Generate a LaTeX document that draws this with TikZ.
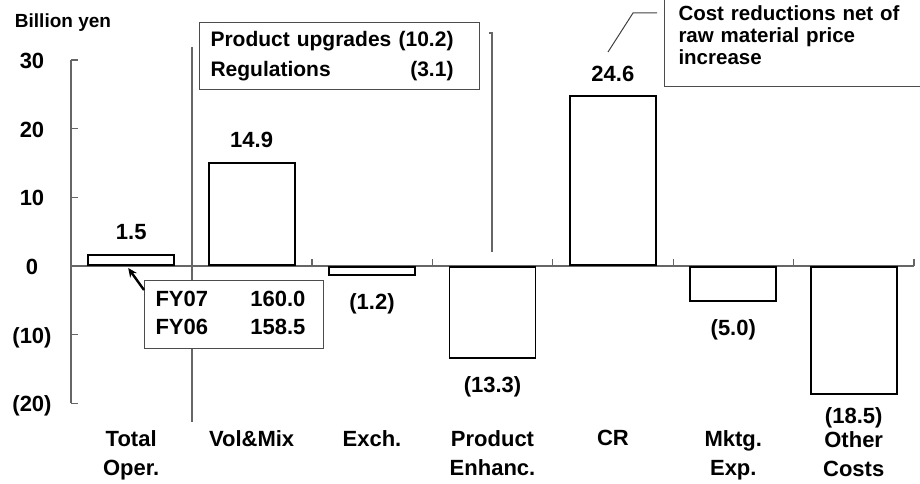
\documentclass[tikz,border=0pt]{standalone}
\usepackage{fontspec}
\setmainfont{Liberation Sans}
\usetikzlibrary{arrows.meta, positioning}

\begin{document}
\begin{tikzpicture}[
	x=1bp, y=-1bp,
	font=\bfseries\fontsize{22bp}{29bp}\selectfont,
	axis/.style={draw=black!60, line width=1.3bp},
	bar/.style={draw, line width=1.8bp, fill=white, inner sep=0pt,
		minimum width=86bp, minimum height=#1*6.865bp},
	val/.style={inner sep=0pt},
	cat/.style={inner sep=0pt, anchor=north, align=center},
	ylab/.style={inner sep=0pt, anchor=base},
	note/.style={draw=black!70, line width=1bp, fill=white, align=left,
		font=\bfseries\fontsize{21bp}{30bp}\selectfont},
	lead/.style={draw=black!60, line width=1.1bp},
	pointer/.style={line width=2.4bp, -{Stealth[length=9bp, width=8bp]}}
	]
	
	\useasboundingbox (0,0) rectangle (920,484);
	\clip (0,0) rectangle (920,484);
	
	% -------------------------------
	% AXES
	% -------------------------------
	\node[ylab, font=\bfseries\fontsize{19bp}{22bp}\selectfont] (unit) at (63,28) {Billion yen};
	\draw[axis] (71,60) -- (71,403);
	\draw[axis] (71,266) -- (914,266);
	\foreach \v/\t in {30/30, 20/20, 10/10, 0/0, -10/{(10)}, -20/{(20)}} {
		\draw[axis] (71,{266-6.865*(\v)}) -- +(7,0);
		\node[ylab] (yl\v) at (32,{266-6.865*(\v)+8.5}) {\t};
	}
	\foreach \i in {1,...,7} {
		\draw[axis] ({71+120.43*\i},266) -- +(0,-7);
	}
	
	% -------------------------------
	% BARS
	% -------------------------------
	\node[bar=1.5, anchor=south]  (bTot) at (131.2,266) {};
	\node[bar=14.9, anchor=south] (bVol) at (251.6,266) {};
	\node[bar=1.2, anchor=north]  (bExc) at (372.0,266) {};
	\node[bar=13.3, anchor=north] (bPE)  at (492.5,266) {};
	\node[bar=24.6, anchor=south] (bCR)  at (612.9,266) {};
	\node[bar=5.0, anchor=north]  (bMkt) at (733.3,266) {};
	\node[bar=18.5, anchor=north] (bOth) at (853.7,266) {};
	
	% -------------------------------
	% VALUES
	% -------------------------------
	\node[val, above=14bp of bTot, anchor=base] (vTot) {1.5};
	\node[val, above=14bp of bVol, anchor=base] (vVol) {14.9};
	\node[val, below=33bp of bExc, anchor=base] (vExc) {(1.2)};
	\node[val, below=33bp of bPE, anchor=base]  (vPE)  {(13.3)};
	\node[val, above=14bp of bCR, anchor=base]  (vCR)  {24.6};
	\node[val, below=33bp of bMkt, anchor=base] (vMkt) {(5.0)};
	\node[val, below=29bp of bOth, anchor=base] (vOth) {(18.5)};
	
	% -------------------------------
	% CATEGORIES
	% -------------------------------
	\node[cat] (cTot) at (131.2,430) {Total\\Oper.};
	\node[cat] (cVol) at (251.6,430) {Vol\&Mix};
	\node[cat] (cExc) at (372.0,430) {Exch.};
	\node[cat] (cPE)  at (492.5,430) {Product\\Enhanc.};
	\node[cat] (cCR)  at (612.9,430) {CR};
	\node[cat] (cMkt) at (733.3,430) {Mktg.\\Exp.};
	\node[cat] (cOth) at (853.7,431) {Other\\Costs};
	
	% -------------------------------
	% CALLOUTS
	% -------------------------------
	\coordinate (brL1) at (192,47);
	\coordinate (brL2) at (192,422);
	\coordinate (brR0) at (489,33);
	\coordinate (brR1) at (492,33);
	\coordinate (brR2) at (492,252);
	\draw[lead] (brL1) -- (brL2);
	\draw[lead] (brR0) -- (brR1) -- (brR2);
	
	\node[note, anchor=north west, minimum height=67bp, text width=258bp,
		inner xsep=11bp] (upg) at (199,22) {%
		\begin{tabular*}{243bp}{@{}l@{\extracolsep{\fill}}r@{}}
			Product upgrades & (10.2)\\
			Regulations & (3.1)
		\end{tabular*}};
	
	\node[note, anchor=north west, minimum width=179bp, minimum height=68bp,
		text width=157bp, inner xsep=11bp,
		font=\bfseries\fontsize{22bp}{28bp}\selectfont] (fy) at (144,280) {%
		\begin{tabular*}{150bp}{@{}l@{\extracolsep{\fill}}r@{}}
			FY07 & 160.0\\
			FY06 & 158.5
		\end{tabular*}};
	
	\node[note, anchor=south west, text width=262bp, inner xsep=14bp,
		inner ysep=22bp, font=\bfseries\fontsize{20.5bp}{22bp}\selectfont]
		(cost) at (664,87) {Cost reductions net of\\raw material price\\increase};
	
	\coordinate (ldA) at (608,52);
	\coordinate (ldB) at (633,13);
	\coordinate (ldC) at (657,13);
	\draw[lead, draw=black!75, line width=1bp] (ldA) -- (ldB) -- (ldC);
	
	% -------------------------------
	% ARROW
	% -------------------------------
	\draw[pointer] ([yshift=-10bp]fy.north west) -- ([xshift=-3bp, yshift=-2bp]bTot.south);
	
\end{tikzpicture}
\end{document}
